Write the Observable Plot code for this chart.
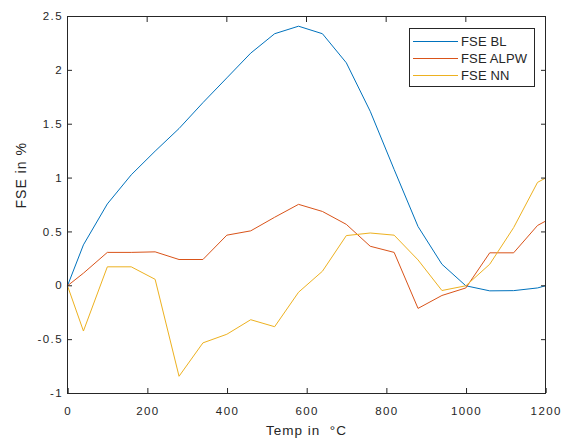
<!DOCTYPE html>
<html>
<head>
<meta charset="utf-8">
<script src="https://cdn.jsdelivr.net/npm/d3@7"></script>
<script src="https://cdn.jsdelivr.net/npm/@observablehq/plot@0.6"></script>
<style>
  html, body { margin: 0; padding: 0; background: #fff; }
  #wrap { position: relative; width: 562px; height: 439px; font-family: "Liberation Sans", Arial, sans-serif; }
  #legend { position: absolute; left: 409px; top: 28px; width: 126px; height: 59px; border: 1px solid #262626; background: #fff; box-sizing: border-box; }
  .row { position: absolute; left: 0; height: 18px; display: flex; align-items: center; font-size: 13px; letter-spacing: 0.15px; color: #262626; }
  .row .sw { width: 45px; height: 0; border-top: 1px solid; margin-left: 3px; margin-right: 3px; }
</style>
</head>
<body>
<div id="wrap"></div>
<script>
const temps = [0, 40, 100, 160, 220, 280, 340, 400, 460, 520, 580, 640, 700, 760, 820, 880, 940, 1000, 1060, 1120, 1180, 1200];
const fseBL   = [0, 0.38, 0.76, 1.03, 1.25, 1.46, 1.70, 1.93, 2.16, 2.34, 2.41, 2.34, 2.07, 1.62, 1.08, 0.55, 0.20, 0.00, -0.047, -0.045, -0.02, 0.00];
const fseALPW = [0, 0.117, 0.31, 0.31, 0.315, 0.244, 0.244, 0.47, 0.51, 0.636, 0.756, 0.69, 0.57, 0.367, 0.31, -0.21, -0.09, -0.02, 0.306, 0.306, 0.56, 0.60];
const fseNN   = [0, -0.42, 0.176, 0.176, 0.06, -0.84, -0.53, -0.45, -0.315, -0.38, -0.06, 0.135, 0.466, 0.49, 0.47, 0.24, -0.044, 0.0, 0.20, 0.54, 0.96, 1.0];
const seriesNames = ["FSE BL", "FSE ALPW", "FSE NN"];
const seriesColors = ["#0072BD", "#D95319", "#EDB120"];
const xTicks = [0, 200, 400, 600, 800, 1000, 1200];
const yTicks = [-1, -0.5, 0, 0.5, 1, 1.5, 2, 2.5];

const allSeries = [fseBL, fseALPW, fseNN];
const rows = [];
allSeries.forEach((vals, s) => vals.forEach((v, i) => rows.push({series: seriesNames[s], t: temps[i], v})));

const ink = "#262626";
const chart = Plot.plot({
  width: 562,
  height: 439,
  marginLeft: 67,
  marginRight: 17,
  marginTop: 16,
  marginBottom: 46,
  style: {fontFamily: "Liberation Sans, Arial, sans-serif", fontSize: "11.5px", color: ink, background: "#fff", letterSpacing: "1.4px"},
  x: {domain: [0, 1200]},
  y: {domain: [-1, 2.5]},
  color: {domain: seriesNames, range: seriesColors},
  marks: [
    Plot.line(rows, {x: "t", y: "v", z: "series", stroke: "series", strokeWidth: 1}),
    Plot.frame({stroke: ink, strokeWidth: 1}),
    Plot.axisX(xTicks, {anchor: "bottom", tickSize: -5, tickPadding: 18.5, tickFormat: d => String(d), label: null, stroke: ink, fill: ink, fontSize: 11.5, dx: 0.7}),
    Plot.axisX(xTicks, {anchor: "top", tickSize: -5, tickFormat: () => "", label: null, stroke: ink}),
    Plot.axisY(yTicks, {anchor: "left", tickSize: -5, tickPadding: 9.5, tickFormat: d => String(d), label: null, stroke: ink, fill: ink, fontSize: 11.5}),
    Plot.axisY(yTicks, {anchor: "right", tickSize: -5, tickFormat: () => "", label: null, stroke: ink}),
    Plot.text(["Temp in  \u00B0C"], {frameAnchor: "bottom", dy: 41, text: d => d, fontSize: 13.5, fill: ink}),
    Plot.text(["FSE in %"], {frameAnchor: "left", dx: -46, dy: 3.5, rotate: -90, text: d => d, fontSize: 14, fill: ink})
  ]
});
document.getElementById("wrap").appendChild(chart);
d3.select(chart).selectAll('g[aria-label="text"] text').style("letter-spacing", "1px");

const legend = document.createElement("div");
legend.id = "legend";
seriesNames.forEach((name, i) => {
  const r = document.createElement("div");
  r.className = "row";
  r.style.top = (3 + i * 17.4) + "px";
  const sw = document.createElement("span");
  sw.className = "sw";
  sw.style.borderTopColor = seriesColors[i];
  const tx = document.createElement("span");
  tx.textContent = name;
  r.appendChild(sw);
  r.appendChild(tx);
  legend.appendChild(r);
});
document.getElementById("wrap").appendChild(legend);
</script>
</body>
</html>
